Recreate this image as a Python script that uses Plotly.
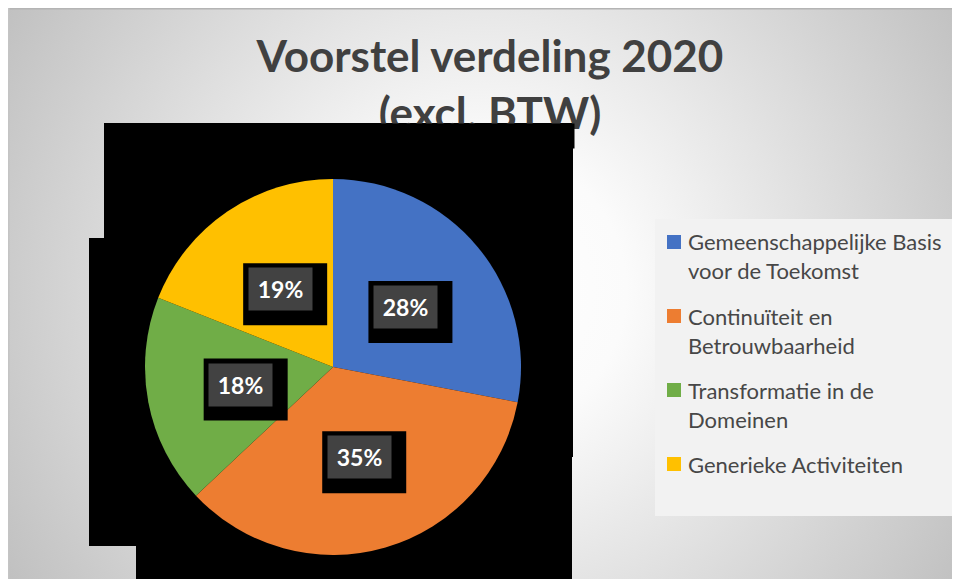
import base64
import math
import plotly.graph_objects as go

# ---------------- data ----------------
categories = [
    "Gemeenschappelijke Basis voor de Toekomst",
    "Continuïteit en Betrouwbaarheid",
    "Transformatie in de Domeinen",
    "Generieke Activiteiten",
]
legend_labels = [
    "Gemeenschappelijke Basis<br>voor de Toekomst",
    "Continuïteit en<br>Betrouwbaarheid",
    "Transformatie in de<br>Domeinen",
    "Generieke Activiteiten",
]
shares = [28, 35, 18, 19]
colors = ["#4472C4", "#ED7D31", "#70AD47", "#FFC000"]
title_text = "Voorstel verdeling 2020<br>(excl. BTW)"

# ---------------- layout helpers ----------------
W, H = 960, 579
OFF = 8  # page body margin


def px(x):
    return (x - OFF) / W


def py(y):
    return 1 - (y - OFF) / H


pie_left, pie_right, pie_top, pie_bottom = 145, 521, 179, 555
cx = (pie_left + pie_right) / 2
cy = (pie_top + pie_bottom) / 2
R = (pie_right - pie_left) / 2

fig = go.Figure(
    go.Pie(
        labels=categories,
        values=shares,
        sort=False,
        direction="clockwise",
        rotation=0,
        marker=dict(colors=colors, line=dict(width=0)),
        textinfo="none",
        hoverinfo="label+percent",
        domain=dict(x=[px(pie_left), px(pie_right)], y=[py(pie_bottom), py(pie_top)]),
        showlegend=False,
    )
)

# background gradient (slide)
svg = """<svg xmlns="http://www.w3.org/2000/svg" width="960" height="579" viewBox="0 0 960 579">
<defs><radialGradient id="g" gradientUnits="userSpaceOnUse" cx="478" cy="282" r="560">
<stop offset="0" stop-color="#ffffff"/><stop offset="0.25" stop-color="#fbfbfb"/><stop offset="1" stop-color="#c0c0c0"/></radialGradient></defs>
<rect width="960" height="579" fill="url(#g)"/>
<rect width="960" height="1.5" fill="#b4b4b4"/>
<rect width="1.5" height="579" fill="#c4c4c4"/>
</svg>"""
src = "data:image/svg+xml;base64," + base64.b64encode(svg.encode()).decode()

shapes = []
# black background regions behind the pie
for (x0, y0, x1, y1) in [(104, 123, 573, 457), (89, 238, 572, 546), (136, 457, 572, 600)]:
    shapes.append(dict(type="rect", xref="paper", yref="paper", layer="below",
                       x0=px(x0), x1=px(x1), y0=py(y1), y1=py(y0),
                       fillcolor="black", line=dict(width=0)))

# legend box
shapes.append(dict(type="rect", xref="paper", yref="paper", layer="below",
                   x0=px(655), x1=px(955), y0=py(516), y1=py(219),
                   fillcolor="#f2f2f2", line=dict(width=0)))

annotations = []
# black strip that overlaps the bottom of the title
annotations.append(dict(
    x=px(104), y=py(123), xref="paper", yref="paper", showarrow=False,
    xanchor="left", yanchor="top", text="&nbsp;", width=469, height=24,
    borderpad=0, bgcolor="black", font=dict(size=10, color="black"),
))

# data labels
total = sum(shares)
start = 0
for v in shares:
    mid = (start + v / 2) / total * 2 * math.pi
    start += v
    lx = cx + 0.5 * R * math.sin(mid)
    ly = cy - 0.5 * R * math.cos(mid)
    # black box behind label
    shapes.append(dict(type="rect", xref="paper", yref="paper", layer="above",
                       x0=px(lx - 37), x1=px(lx + 47), y0=py(ly + 36), y1=py(ly - 26),
                       fillcolor="black", line=dict(width=0)))
    annotations.append(dict(
        x=px(lx), y=py(ly), xref="paper", yref="paper", showarrow=False,
        xanchor="center", yanchor="middle",
        text=f"{v / total * 100:.0f}%", width=63, height=42, borderpad=0,
        bgcolor="#424242",
        font=dict(family="Lato", size=23, color="white", weight="bold"),
    ))

# custom legend
leg_top = 242
leg_step = 74
for i, (lab, col) in enumerate(zip(legend_labels, colors)):
    yc = leg_top + i * leg_step
    shapes.append(dict(type="rect", xref="paper", yref="paper", layer="below",
                       x0=px(667), x1=px(681), y0=py(yc + 7), y1=py(yc - 7),
                       fillcolor=col, line=dict(width=0)))
    annotations.append(dict(
        x=px(687), y=py(yc - 14.5), xref="paper", yref="paper", showarrow=False,
        xanchor="left", yanchor="top", align="left", borderpad=0,
        text=lab, font=dict(family="Lato", size=22, color="#474747"),
    ))

fig.update_layout(
    width=W, height=H,
    margin=dict(l=0, r=0, t=0, b=0, pad=0),
    paper_bgcolor="white",
    plot_bgcolor="white",
    showlegend=False,
    title=dict(
        text=title_text, x=px(490), xanchor="center", xref="paper",
        y=1 - 64 / H, yanchor="top", yref="container",
        font=dict(family="Lato", size=44, color="#404040", weight="bold"),
    ),
    images=[dict(source=src, xref="paper", yref="paper", x=0, y=1,
                 sizex=1, sizey=1, xanchor="left", yanchor="top",
                 sizing="stretch", layer="below")],
    shapes=shapes,
    annotations=annotations,
)

fig.write_html("out.html")
